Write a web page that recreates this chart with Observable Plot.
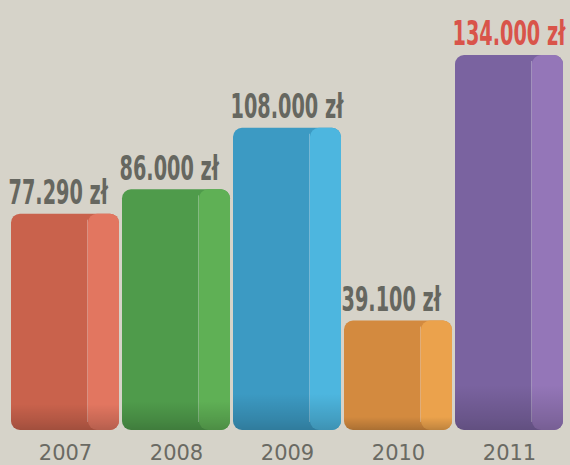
<!DOCTYPE html>
<html>
<head>
<meta charset="utf-8">
<script src="https://cdn.jsdelivr.net/npm/d3@7"></script>
<script src="https://cdn.jsdelivr.net/npm/@observablehq/plot@0.6"></script>
<style>
  html, body { margin: 0; padding: 0; background: #d6d3c9; }
  #chart { width: 570px; height: 465px; overflow: hidden; }
</style>
</head>
<body>
<div id="chart"></div>
<script>
const years = ["2007", "2008", "2009", "2010", "2011"];
const values = [77290, 86000, 108000, 39100, 134000];
const valueLabels = ["77.290 zł", "86.000 zł", "108.000 zł", "39.100 zł", "134.000 zł"];

// styling
const frontColors = ["#c9624c", "#4f9b4b", "#3c9ac3", "#d38a3f", "#7a63a0"];
const sideColors  = ["#e27660", "#5fb055", "#4db6df", "#eba24c", "#9476b8"];
const labelColors = ["#666760", "#666760", "#666760", "#666760", "#d9544a"];

const data = years.map((y, i) => ({year: y, value: values[i], label: valueLabels[i], i}));

const chart = Plot.plot({
  width: 570,
  height: 465,
  marginTop: 0,
  marginBottom: 35,
  marginLeft: 6,
  marginRight: 2,
  style: {background: "transparent", overflow: "visible"},
  x: {domain: years, padding: 0.03, label: null},
  y: {domain: [0, 153650], axis: null},
  color: {domain: years, range: frontColors},
  marks: [
    Plot.barY(data, {x: "year", y: "value", fill: "year", rx: 9}),
    Plot.barY(data, {x: "year", y: "value", fill: d => sideColors[d.i], insetLeft: 77, rx: 9}),
    Plot.barY(data, {x: "year", y: "value", fill: "#ffffff", fillOpacity: 0.3, insetLeft: 76, insetRight: 31, insetTop: 6, insetBottom: 8}),
    Plot.barY(data, {x: "year", y: "value", fill: "url(#bottomShade)", rx: 9}),
    Plot.text(data, {
      x: "year", y: "value", text: "label",
      fill: d => labelColors[d.i],
      textAnchor: "start", lineAnchor: "bottom",
      dx: -57, dy: -10,
      fontSize: 34, fontWeight: "bold",
      fontFamily: "'DejaVu Sans Condensed', 'DejaVu Sans', sans-serif",
      className: "value-label"
    }),
    Plot.axisX({
      tickSize: 0, tickPadding: 15, fontSize: 21,
      fill: "#6a6a63",
      fontFamily: "'DejaVu Sans', sans-serif"
    })
  ]
});

// gradient for the darker bottom bevel
const ns = "http://www.w3.org/2000/svg";
const defs = document.createElementNS(ns, "defs");
const grad = document.createElementNS(ns, "linearGradient");
grad.setAttribute("id", "bottomShade");
grad.setAttribute("x1", "0"); grad.setAttribute("y1", "0");
grad.setAttribute("x2", "0"); grad.setAttribute("y2", "1");
[["0", 0], ["0.88", 0], ["0.97", 0.14], ["1", 0.2]].forEach(([o, a]) => {
  const s = document.createElementNS(ns, "stop");
  s.setAttribute("offset", o);
  s.setAttribute("stop-color", "#000");
  s.setAttribute("stop-opacity", a);
  grad.appendChild(s);
});
defs.appendChild(grad);
chart.insertBefore(defs, chart.firstChild);

document.getElementById("chart").appendChild(chart);

// condense the value labels like the newspaper's narrow bold type
chart.querySelectorAll(".value-label text").forEach(t => {
  const tr = t.getAttribute("transform") || "";
  t.setAttribute("transform", tr + " scale(0.63,1)");
});
</script>
</body>
</html>
